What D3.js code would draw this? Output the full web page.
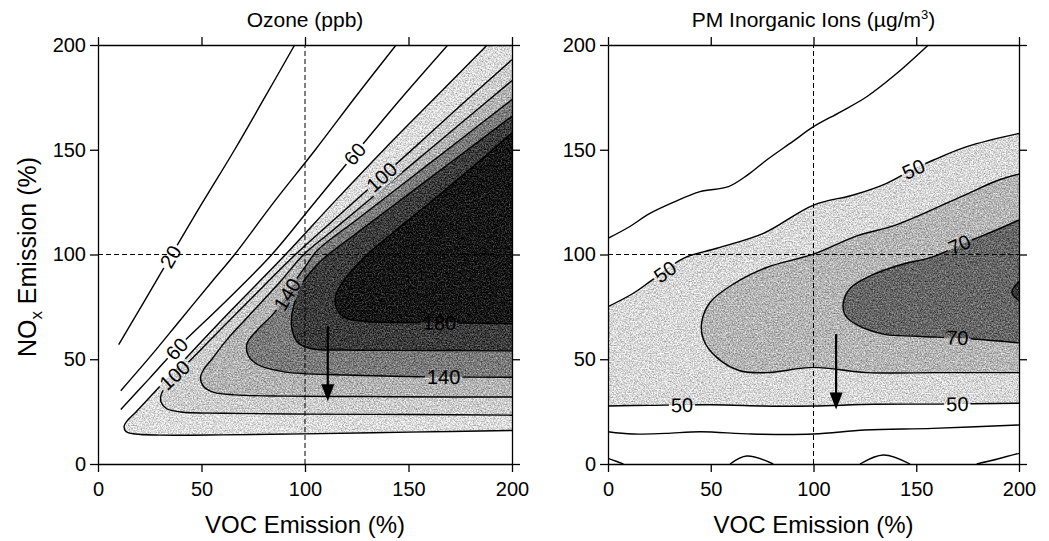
<!DOCTYPE html>
<html>
<head>
<meta charset="utf-8">
<script src="https://cdn.jsdelivr.net/npm/d3@7"></script>
<style>
  html, body { margin: 0; padding: 0; background: #fff; }
  svg { display: block; }
  text { font-family: "Liberation Sans", Arial, Helvetica, sans-serif; fill: #000; }
</style>
</head>
<body>
<svg id="chart" width="1049" height="541"></svg>
<script>
// ---------------- data ----------------
const axisTicks = [0, 50, 100, 150, 200];
const baseVOC = 100;   // base-case emissions (%)
const baseNOx = 100;

// Ozone isopleths (ppb), points are [VOC %, NOx %]
const ozoneLevels = [20, 40, 60, 80, 100, 120, 140, 160, 180];
const ozone20 = [[10,57],[22,77],[35,99],[50,124],[66,150],[80,174],[95,200]];
const ozone40 = [[11,35],[25,51],[40,69],[55,87],[66,100],[85,125],[105,150],[125,176],[144,200]];
const ozone60 = [[11,26],[25,41],[38,55],[60,76],[84,100],[104,124],[124,148],[146,174],[169,200]];
const ozone80 = [[188,200],[164,176],[139,151],[114,125],[90.6,100],[64,73],[42,50],[27,34],[18,24.5],[14,20.5],[12.6,18],[13.5,15.5],[18,14.3],[30,13.8],[60,13.9],[100,14.4],[150,15.2],[200,16]];
const ozone100 = [[200,193],[175,171],[150,148.5],[122,123.6],[95.4,100],[75,80],[55,60],[43,48],[37,42.5],[33,37.5],[30.5,33],[30.5,29.5],[33,26.5],[40,24.8],[60,24.2],[100,23.8],[150,23.6],[200,23.3]];
const ozone120 = [[200,183],[175,162.4],[150,141.7],[125,121.1],[112,110.4],[99.4,100],[88,87],[75,73],[62,59],[55,50],[51,45],[49.5,41],[51,37],[56,34.2],[66,33],[90,32.4],[130,32.2],[170,32],[200,32]];
const ozone140 = [[200,174],[175,154.8],[150,135.7],[125,116.6],[106,102],[100,94],[95,87],[91.3,81],[85,72],[77,64],[72,57.5],[72.5,52],[77,47.5],[90,44],[120,42.5],[160,41.6],[200,41.4]];
const ozone160 = [[200,166],[175,147.4],[150,128.8],[125,110.2],[110,99],[103,92],[98,85],[95,77],[93.5,70],[94,63],[97,57.5],[103,55],[120,54.4],[160,54.2],[200,54]];
const ozone180 = [[200,158],[180,141],[160,124.5],[142,110],[128,98],[119,88],[115,81],[115,75],[119,70],[130,68],[160,67.5],[200,67]];
const ozoneContours = [ozone20, ozone40, ozone60, ozone80, ozone100, ozone120, ozone140, ozone160, ozone180];
const ozoneLabels = [
  { level: 20,  at: [35, 99] },
  { level: 60,  at: [38, 55] },
  { level: 100, at: [37, 42.5] },
  { level: 60,  at: [124, 148] },
  { level: 100, at: [137, 137] },
  { level: 140, at: [91.3, 81] },
  { level: 140, at: [167, 41.6] },
  { level: 180, at: [165, 67.5] }
];
const ozoneArrow = { voc: 111, from: 66, to: 30 };

// PM inorganic ions (ug/m3)
const pm30 = [
  [[0,2.7],[4,1.3],[7.5,0]],
  [[59.4,0],[67.5,3.8],[80.4,0]],
  [[122.6,0],[134,4.3],[147,0]],
  [[179.4,0],[190,2.5],[200,5.1]]
];
const pm40Upper = [[0,107.7],[10,113],[20.4,119.6],[32,125],[44.8,130],[58.6,132.4],[68,138],[77.2,145.1],[90,154],[100,161],[113,168],[125.9,175.3],[140,186],[155.9,200]];
const pm40Lower = [[0,15.4],[12,14.3],[28,14.6],[45,15.4],[70,14.3],[100,14.3],[125,16.2],[158,17],[200,18.6]];
const pm50Upper = [[0,75.1],[12.3,81.5],[21.4,87.8],[36.7,98.2],[52.9,103],[75.6,110.1],[100,123.6],[119.4,128.4],[135.6,134],[147.8,140.3],[158.4,145.1],[174.6,151.5],[200,157.8]];
const pm50Lower = [[0,27.7],[20,28],[50,28.3],[80,27.6],[100,27.7],[130,28.5],[160,28.6],[200,29]];
const pm60 = [[200,138.4],[189.2,135.2],[174.6,128.8],[158.4,121.7],[138.9,113.7],[121.1,108.9],[100,100.2],[77.2,93.8],[61,85.9],[49.6,77.1],[45.6,67.6],[46.4,59.6],[52.9,50.9],[64.2,44.5],[77.2,43.6],[100,46.1],[125.9,43.6],[158.4,43.6],[200,43.6]];
const pm70 = [[200,116.5],[189,111.7],[174.6,106],[158.4,99],[142,95],[128,90],[118,84],[114.5,77],[115.4,71],[121,66.5],[134,62],[150,61],[174.6,59.9],[200,57.8]];
const pm80 = [[200,87],[196.5,82],[200,78]];
const pmLabels = [
  { level: 50, line: "upper", at: [27.7, 91.8] },
  { level: 50, line: "upper", at: [148.6, 140.8] },
  { level: 50, line: "lower", at: [36, 28.2] },
  { level: 50, line: "lower", at: [170, 28.7] },
  { level: 70, line: "main",  at: [171, 104.8] },
  { level: 70, line: "main",  at: [170, 60.3] }
];
const pmArrow = { voc: 111, from: 62, to: 26 };

// ---------------- drawing ----------------
const W = 1049, H = 541;
const TOP = 45, BOTTOM = 464;
const svg = d3.select("#chart");
const defs = svg.append("defs");

const ozoneShades = { 80: "#dcdcdc", 100: "#cdcdcd", 120: "#b3b3b3", 140: "#7a7a7a", 160: "#3c3c3c", 180: "#151515" };
const pmShades = { 50: "#d8d8d8", 60: "#b5b5b5", 70: "#666666", 80: "#383838" };

// halftone-like grain for the shaded bands
const grain = defs.append("filter").attr("id", "grain")
  .attr("filterUnits", "userSpaceOnUse").attr("x", 0).attr("y", 0).attr("width", W).attr("height", H)
  .attr("color-interpolation-filters", "sRGB");
grain.append("feTurbulence").attr("type", "fractalNoise").attr("baseFrequency", 0.75)
  .attr("numOctaves", 2).attr("seed", 7).attr("result", "noise");
grain.append("feColorMatrix").attr("in", "noise").attr("type", "matrix")
  .attr("values", "1 0 0 0 0  1 0 0 0 0  1 0 0 0 0  0 0 0 0 1").attr("result", "grey");
grain.append("feComposite").attr("in", "SourceGraphic").attr("in2", "grey").attr("operator", "arithmetic")
  .attr("k1", 0).attr("k2", 1).attr("k3", 0.8).attr("k4", -0.4).attr("result", "mix");
grain.append("feComposite").attr("in", "mix").attr("in2", "SourceGraphic").attr("operator", "in");

function makePanel(id, left, right) {
  const x = d3.scaleLinear().domain([0, 200]).range([left, right]);
  const y = d3.scaleLinear().domain([0, 200]).range([BOTTOM, TOP]);
  const line = d3.line().x(d => x(d[0])).y(d => y(d[1])).curve(d3.curveCatmullRom.alpha(0.5));
  const g = svg.append("g");

  defs.append("clipPath").attr("id", "clip-" + id)
    .append("rect").attr("x", left).attr("y", TOP).attr("width", right - left).attr("height", BOTTOM - TOP);
  const mask = defs.append("mask").attr("id", "gap-" + id)
    .attr("maskUnits", "userSpaceOnUse").attr("x", 0).attr("y", 0).attr("width", W).attr("height", H);
  mask.append("rect").attr("width", W).attr("height", H).attr("fill", "#fff");

  const plot = g.append("g").attr("clip-path", `url(#clip-${id})`);
  const fills = plot.append("g").attr("filter", "url(#grain)");
  const lines = plot.append("g").attr("mask", `url(#gap-${id})`)
    .attr("fill", "none").attr("stroke", "#000").attr("stroke-width", 1.4);
  const labels = plot.append("g");
  const guides = plot.append("g");

  // closed region bounded by a contour and the plot frame (top-right corner when needed)
  function region(pts) {
    let p = line(pts);
    const first = pts[0];
    if (first[1] >= 200 && first[0] < 200) p += `L${x(200)},${y(200)}`;
    return p + "Z";
  }
  function band(upper, lower) {
    const back = lower.slice().reverse();
    return line(upper) + line(back).replace(/^M/, "L") + "Z";
  }
  function angleAt(pts, at) {
    const px = x(at[0]), py = y(at[1]);
    let best = Infinity, ang = 0;
    for (let k = 0; k < pts.length - 1; k++) {
      const ax = x(pts[k][0]), ay = y(pts[k][1]);
      const dx = x(pts[k + 1][0]) - ax, dy = y(pts[k + 1][1]) - ay;
      const t = Math.max(0, Math.min(1, ((px - ax) * dx + (py - ay) * dy) / (dx * dx + dy * dy)));
      const d = Math.hypot(ax + t * dx - px, ay + t * dy - py);
      if (d < best) { best = d; ang = Math.atan2(dy, dx) * 180 / Math.PI; }
    }
    if (ang > 90) ang -= 180;
    if (ang <= -90) ang += 180;
    return ang;
  }
  function label(text, pts, at) {
    const px = x(at[0]), py = y(at[1]);
    const ang = angleAt(pts, at);
    const tf = `translate(${px},${py}) rotate(${ang})`;
    const t = labels.append("text").attr("transform", tf)
      .attr("text-anchor", "middle").attr("dy", "0.36em")
      .attr("font-size", 20).text(text);
    const b = t.node().getBBox();
    mask.append("rect").attr("transform", tf)
      .attr("x", b.x - 2).attr("y", b.y + 1).attr("width", b.width + 4).attr("height", b.height - 2)
      .attr("fill", "#000");
  }
  function arrow(a) {
    const xa = x(a.voc), y0 = y(a.from), y1 = y(a.to);
    guides.append("line").attr("x1", xa).attr("x2", xa).attr("y1", y0).attr("y2", y1 - 14)
      .attr("stroke", "#000").attr("stroke-width", 2.2);
    guides.append("path")
      .attr("d", `M${xa - 6.5},${y1 - 17}L${xa + 6.5},${y1 - 17}L${xa},${y1}Z`).attr("fill", "#000");
  }
  function baseLines() {
    const dash = "5,3";
    guides.append("line").attr("x1", x(baseVOC)).attr("x2", x(baseVOC)).attr("y1", y(0)).attr("y2", y(200))
      .attr("stroke", "#000").attr("stroke-width", 1).attr("stroke-dasharray", dash);
    guides.append("line").attr("x1", x(0)).attr("x2", x(200)).attr("y1", y(baseNOx)).attr("y2", y(baseNOx))
      .attr("stroke", "#000").attr("stroke-width", 1).attr("stroke-dasharray", dash);
  }
  function axes(title) {
    const fmt = d3.format("d");
    const axB = g.append("g").attr("transform", `translate(0,${BOTTOM})`)
      .call(d3.axisBottom(x).tickValues(axisTicks).tickFormat(fmt).tickSize(8).tickSizeOuter(0).tickPadding(10));
    const axL = g.append("g").attr("transform", `translate(${left},0)`)
      .call(d3.axisLeft(y).tickValues(axisTicks).tickFormat(fmt).tickSize(8).tickSizeOuter(0).tickPadding(4));
    const axT = g.append("g").attr("transform", `translate(0,${TOP})`)
      .call(d3.axisTop(x).tickValues(axisTicks).tickFormat("").tickSize(8).tickSizeOuter(0));
    const axR = g.append("g").attr("transform", `translate(${right},0)`)
      .call(d3.axisRight(y).tickValues(axisTicks).tickFormat("").tickSize(8).tickSizeOuter(0));
    [axB, axL, axT, axR].forEach(a => {
      a.attr("font-family", null).attr("font-size", 20);
      a.selectAll("path, line").attr("stroke", "#000").attr("stroke-width", 1.3);
      a.selectAll("text").attr("fill", "#000");
    });
    g.append("text").attr("x", (left + right) / 2).attr("y", 533)
      .attr("text-anchor", "middle").attr("font-size", 24).text("VOC Emission (%)");
    title(g.append("text").attr("x", (left + right) / 2).attr("y", 27).attr("text-anchor", "middle").attr("font-size", 21));
  }
  return { x, y, line, fills, lines, region, band, label, arrow, baseLines, axes };
}

// ----- Ozone panel -----
const oz = makePanel("ozone", 98, 512);
ozoneLevels.forEach((lv, i) => {
  if (ozoneShades[lv]) oz.fills.append("path").attr("d", oz.region(ozoneContours[i])).attr("fill", ozoneShades[lv]);
});
ozoneContours.forEach(c => oz.lines.append("path").attr("d", oz.line(c)));
ozoneLabels.forEach(l => oz.label(String(l.level), ozoneContours[ozoneLevels.indexOf(l.level)], l.at));
oz.baseLines();
oz.arrow(ozoneArrow);
oz.axes(t => t.text("Ozone (ppb)"));

// ----- PM panel -----
const pm = makePanel("pm", 608, 1019);
pm.fills.append("path").attr("d", pm.band(pm50Upper, pm50Lower)).attr("fill", pmShades[50]);
pm.fills.append("path").attr("d", pm.region(pm60)).attr("fill", pmShades[60]);
pm.fills.append("path").attr("d", pm.region(pm70)).attr("fill", pmShades[70]);
pm.fills.append("path").attr("d", pm.region(pm80)).attr("fill", pmShades[80]);
[...pm30, pm40Upper, pm40Lower, pm50Upper, pm50Lower, pm60, pm70, pm80]
  .forEach(c => pm.lines.append("path").attr("d", pm.line(c)));
const pmLines = { upper: pm50Upper, lower: pm50Lower, main: pm70 };
pmLabels.forEach(l => pm.label(String(l.level), pmLines[l.line], l.at));
pm.baseLines();
pm.arrow(pmArrow);
pm.axes(t => {
  t.append("tspan").text("PM Inorganic Ions (\u00b5g/m");
  t.append("tspan").attr("font-size", 13).attr("dy", -8).text("3");
  t.append("tspan").attr("dy", 8).text(")");
});

// shared y-axis title
const yTitle = svg.append("text").attr("transform", "translate(36,257) rotate(-90)")
  .attr("text-anchor", "middle").attr("font-size", 25);
yTitle.append("tspan").text("NO");
yTitle.append("tspan").attr("font-size", 17).attr("dy", 6).text("x");
yTitle.append("tspan").attr("dy", -6).text(" Emission (%)");
</script>
</body>
</html>
